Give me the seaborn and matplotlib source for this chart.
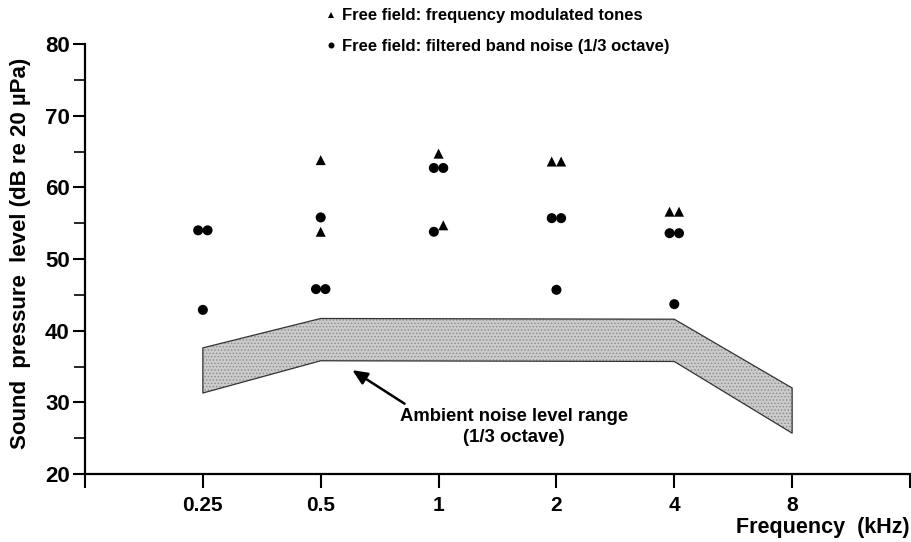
import numpy as np
import pandas as pd
import seaborn as sns
import matplotlib.pyplot as plt
from matplotlib import font_manager

# data
tone_label = 'Free field: frequency modulated tones'
noise_label = 'Free field: filtered band noise (1/3 octave)'

tone_freq = [0.5, 0.5, 1, 1, 2, 2, 4, 4]
tone_side = [0, 0, 0, 1, -1, 1, -1, 1]
tone_spl = [63.8, 53.8, 64.7, 54.7, 63.6, 63.6, 56.6, 56.6]

noise_freq = [0.25, 0.25, 0.25, 0.5, 0.5, 0.5, 1, 1, 1, 2, 2, 2, 4, 4, 4]
noise_side = [-1, 1, 0, 0, -1, 1, -1, 1, -1, -1, 1, 0, -1, 1, 0]
noise_spl = [54.0, 54.0, 42.9, 55.8, 45.8, 45.8, 62.7, 62.7, 53.8, 55.7, 55.7, 45.7, 53.6, 53.6, 43.7]

band_freq = [0.25, 0.5, 4, 8]
band_upper = [37.6, 41.7, 41.6, 32.0]
band_lower = [31.3, 35.8, 35.7, 25.7]

freq_ticks = [0.125, 0.25, 0.5, 1, 2, 4, 8, 16]
freq_labels = ['', '0.25', '0.5', '1', '2', '4', '8', '']

sns.set_style('white')
names = {f.name for f in font_manager.fontManager.ttflist}
narrow = 'Liberation Sans Narrow' if 'Liberation Sans Narrow' in names else 'Liberation Sans'
plt.rcParams['font.family'] = ['Liberation Sans', 'DejaVu Sans']
plt.rcParams['font.weight'] = 'bold'
for key in ['text.color', 'axes.labelcolor', 'xtick.color', 'ytick.color']:
    plt.rcParams[key] = 'black'
plt.rcParams['hatch.linewidth'] = 0.6

df = pd.DataFrame({
    'freq': tone_freq + noise_freq,
    'side': tone_side + noise_side,
    'spl': tone_spl + noise_spl,
    'stimulus': [tone_label] * len(tone_freq) + [noise_label] * len(noise_freq),
})
# small side-by-side offset (in octaves) like the original figure
df['x'] = df['freq'] * 2 ** (df['side'] * 0.04)

fig = plt.figure(figsize=(9.12, 5.42), dpi=100)
ax = fig.add_axes([85 / 912, 1 - 474 / 542, 825 / 912, 430 / 542])

# stippled grey band
ax.fill_between(band_freq, band_lower, band_upper, facecolor='#cbcbcb',
                edgecolor='#8a8a8a', hatch='.....', linewidth=0, zorder=1)
ax.fill_between(band_freq, band_lower, band_upper, facecolor='none',
                edgecolor='#333333', linewidth=0.9, zorder=2)

sns.scatterplot(data=df, x='x', y='spl', style='stimulus',
                style_order=[tone_label, noise_label],
                markers={tone_label: '^', noise_label: 'o'},
                color='black', s=52, edgecolor='black', linewidth=0,
                ax=ax, zorder=3)

ax.set_xscale('log', base=2)
ax.set_xlim(0.125, 16)
ax.set_ylim(20, 80)
ax.set_xticks(freq_ticks)
ax.set_xticklabels(freq_labels, fontfamily=narrow, fontsize=15, fontweight='bold')
ax.xaxis.set_minor_locator(plt.NullLocator())
ax.set_yticks(range(20, 81, 10))
ax.set_yticks(range(25, 80, 10), minor=True)
ax.tick_params(axis='y', labelsize=16, length=9, width=1.5, direction='out', left=True, pad=2)
ax.tick_params(axis='y', which='minor', length=8, width=1.2, left=True)
ax.tick_params(axis='x', length=10, width=1.5, direction='out', bottom=True, pad=6)
for t in ax.get_yticklabels():
    t.set_fontweight('bold')

sns.despine(ax=ax)
ax.spines['left'].set_linewidth(1.6)
ax.spines['bottom'].set_linewidth(1.6)
ax.spines['left'].set_color('black')
ax.spines['bottom'].set_color('black')
ax.set_xlabel('')
ax.set_ylabel('')

fig.text(21 / 912, 1 - 253 / 542, 'Sound  pressure  level (dB re 20 \u00b5Pa)',
         rotation=90, ha='center', va='center', fontsize=16, fontweight='bold')
fig.text(910 / 912, 1 - 527 / 542, 'Frequency  (kHz)', ha='right', va='center',
         fontsize=15.5, fontweight='bold', fontfamily=narrow)

ax.annotate('', xy=(0.594, 34.7), xytext=(0.83, 29.6),
            arrowprops=dict(arrowstyle='-|>,head_length=0.9,head_width=0.4',
                            color='black', lw=1.8))
ax.text(1.56, 26.5, 'Ambient noise level range\n(1/3 octave)', ha='center', va='center',
        fontsize=13.3, fontweight='bold', fontfamily=narrow, linespacing=1.3)

handles, labels = ax.get_legend_handles_labels()
ax.legend(handles, labels, loc='upper left', bbox_to_anchor=(316 / 912, 1 - 0 / 542),
          bbox_transform=fig.transFigure, frameon=False, borderpad=0,
          handlelength=0.75, handletextpad=0.3, labelspacing=0.95, markerscale=0.6,
          prop={'size': 12, 'weight': 'bold'})

fig.savefig('out.png', dpi=100)
